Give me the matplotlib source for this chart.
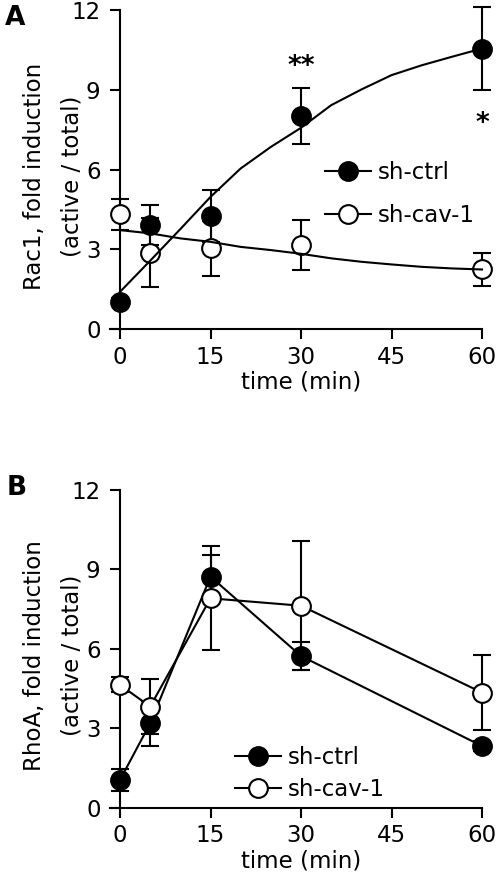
import numpy as np
import matplotlib
matplotlib.use('Agg')
import matplotlib.pyplot as plt

plt.rcParams['font.family'] = ['DejaVu Sans']
plt.rcParams['font.size'] = 16

# ---- data ----
t = [0, 5, 15, 30, 60]

# panel A: Rac1
rac_ctrl = [1.0, 3.9, 4.25, 8.0, 10.55]
rac_ctrl_err = [0.15, 0.75, 0.97, 1.05, 1.55]
rac_cav = [4.31, 2.87, 3.03, 3.16, 2.24]
rac_cav_err = [0.6, 1.3, 1.04, 0.95, 0.62]
# fitted curves (read at 5-min steps)
fit_t = [0, 5, 10, 15, 20, 25, 30, 35, 40, 45, 50, 55, 60]
fit_ctrl = [1.40, 2.57, 3.76, 4.97, 6.04, 6.85, 7.57, 8.42, 9.01, 9.55, 9.92, 10.24, 10.55]
fit_cav = [3.72, 3.60, 3.41, 3.28, 3.09, 2.97, 2.83, 2.66, 2.53, 2.43, 2.34, 2.28, 2.24]

# panel B: RhoA
rho_ctrl = [1.05, 3.19, 8.73, 5.73, 2.33]
rho_ctrl_err = [0.4, 0.86, 0.82, 0.53, 0.2]
rho_cav = [4.64, 3.82, 7.91, 7.63, 4.35]
rho_cav_err = [0.28, 1.04, 1.96, 2.44, 1.43]

xticks = [0, 15, 30, 45, 60]
yticks = [0, 3, 6, 9, 12]

fig = plt.figure(figsize=(5, 8.85), dpi=100)
axA = fig.add_axes([0.22, 0.6282, 0.744, 0.3605])
axB = fig.add_axes([0.22, 0.0873, 0.744, 0.359])

mk = dict(ms=13.5, mew=1.5, mec='k', clip_on=False)
eb = dict(fmt='none', ecolor='k', elinewidth=1.5, capsize=6.5, capthick=1.5, clip_on=False)


def style(ax, ylab):
    ax.set_xlim(-1.66, 60)
    ax.set_ylim(0, 12)
    ax.spines['left'].set_position(('data', 0))
    ax.spines['top'].set_visible(False)
    ax.spines['right'].set_visible(False)
    for s in ('left', 'bottom'):
        ax.spines[s].set_linewidth(1.5)
    ax.set_xticks(xticks)
    ax.set_yticks(yticks)
    ax.tick_params(direction='out', length=7, width=1.5, labelsize=16.5)
    ax.tick_params(axis='x', pad=5)
    ax.tick_params(axis='y', pad=7)
    ax.set_xlabel('time (min)', fontsize=16.5)
    ax.xaxis.set_label_coords(0.513, -0.13)
    ax.set_ylabel(ylab, fontsize=16.5, linespacing=1.8)
    ax.yaxis.set_label_coords(-0.072, 0.48)


# ---- A ----
axA.errorbar(t, rac_ctrl, yerr=rac_ctrl_err, zorder=2, **eb)
axA.errorbar(t, rac_cav, yerr=rac_cav_err, zorder=2, **eb)
axA.plot(t, rac_ctrl, 'o', mfc='k', zorder=3, **mk)
axA.plot(t, rac_cav, 'o', mfc='w', zorder=3, **mk)
axA.plot(fit_t, fit_ctrl, 'k-', lw=1.5, zorder=4, clip_on=False)
axA.plot(fit_t, fit_cav, 'k-', lw=1.5, zorder=4, clip_on=False)
axA.text(30, 9.85, '**', ha='center', va='center', fontsize=19, fontweight='bold')
axA.text(60, 7.7, '*', ha='center', va='center', fontsize=19, fontweight='bold')
hA = [axA.plot([], [], 'o-', color='k', mfc=c, lw=1.5, ms=13.5, mew=1.5, mec='k')[0] for c in ('k', 'w')]
axA.legend(hA, ['sh-ctrl', 'sh-cav-1'], loc='upper left', bbox_to_anchor=(0.65, 0.818),
           bbox_transform=fig.transFigure, frameon=False, fontsize=16.5, borderpad=0,
           borderaxespad=0, handlelength=2.0, handletextpad=0.3, labelspacing=0.85)
style(axA, 'Rac1, fold induction\n(active / total)')

# ---- B ----
axB.errorbar(t, rho_ctrl, yerr=rho_ctrl_err, zorder=2, **eb)
axB.errorbar(t, rho_cav, yerr=rho_cav_err, zorder=2, **eb)
axB.plot(t, rho_ctrl, 'o-', color='k', mfc='k', lw=1.5, zorder=3, **mk)
axB.plot(t, rho_cav, 'o-', color='k', mfc='w', lw=1.5, zorder=4, **mk)
hB = [axB.plot([], [], 'o-', color='k', mfc=c, lw=1.5, ms=13.5, mew=1.5, mec='k')[0] for c in ('k', 'w')]
axB.legend(hB, ['sh-ctrl', 'sh-cav-1'], loc='upper left', bbox_to_anchor=(0.47, 0.157),
           bbox_transform=fig.transFigure, frameon=False, fontsize=16.5, borderpad=0,
           borderaxespad=0, handlelength=2.0, handletextpad=0.3, labelspacing=0.4)
style(axB, 'RhoA, fold induction\n(active / total)')

fig.text(0.01, 0.9715, 'A', fontsize=19, fontweight='bold', va='baseline')
fig.text(0.014, 0.4405, 'B', fontsize=19, fontweight='bold', va='baseline')

plt.savefig('out.png', dpi=100)
